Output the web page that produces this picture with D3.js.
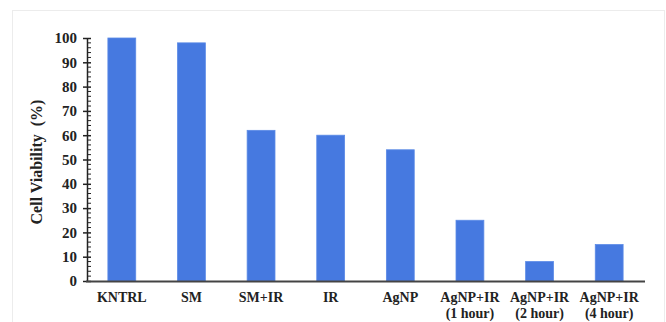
<!DOCTYPE html>
<html><head><meta charset="utf-8">
<script src="https://cdn.jsdelivr.net/npm/d3@7"></script>
<style>body{margin:0;background:#fff}svg{display:block}
svg text{font-family:"Liberation Serif","Times New Roman",Tinos,"DejaVu Serif",serif;font-weight:bold;fill:#222}</style>
</head><body>
<svg id="c" width="666" height="322"></svg>
<script>
const categories = [["KNTRL"],["SM"],["SM+IR"],["IR"],["AgNP"],["AgNP+IR","(1 hour)"],["AgNP+IR","(2 hour)"],["AgNP+IR","(4 hour)"]];
const values = [100, 98, 62, 60, 54, 25, 8, 15];
const yTicks = [0,10,20,30,40,50,60,70,80,90,100];
const yLabel = "Cell Viability  (%)";

const svg = d3.select("#c");
svg.append("rect").attr("x",12.5).attr("y",10.5).attr("width",652).attr("height",330)
  .attr("fill","none").attr("stroke","#ececec");

const x = d3.scaleBand().domain(categories.map((d,i)=>i)).range([87,644]).paddingInner(0.6).paddingOuter(0.3);
const y = d3.scaleLinear().domain([0,100]).range([281,38]);

// bars
svg.selectAll("rect.bar").data(values).enter().append("rect")
  .attr("class","bar")
  .attr("x",(d,i)=>x(i)).attr("width",x.bandwidth())
  .attr("y",d=>y(d)).attr("height",d=>y(0)-y(d))
  .attr("fill","#4679e0").attr("stroke","#5b8ae6").attr("stroke-width",0.8);

// minor ticks
const minor = d3.range(0,101,2).filter(v=>v%10!==0);
svg.selectAll("line.minor").data(minor).enter().append("line")
  .attr("x1",87).attr("x2",91).attr("y1",d=>y(d)).attr("y2",d=>y(d))
  .attr("stroke","#222").attr("stroke-width",1);

// y axis
const ya = svg.append("g").attr("transform","translate(87,0)")
  .call(d3.axisLeft(y).tickValues(yTicks).tickSize(0).tickPadding(10).tickSizeOuter(0));
ya.attr("font-family",null).attr("font-size",null);
ya.select(".domain").attr("stroke","#222").attr("stroke-width",1.5);
ya.selectAll(".tick line").remove();
ya.selectAll(".tick").append("line").attr("x1",-4).attr("x2",4).attr("stroke","#222").attr("stroke-width",1.5);
ya.selectAll("text").style("font-size","15px");

// x axis line
svg.append("line").attr("x1",86).attr("x2",645).attr("y1",281.5).attr("y2",281.5)
  .attr("stroke","#444").attr("stroke-width",1.8);

// x labels
const xl = svg.selectAll("text.xl").data(categories).enter().append("text")
  .attr("class","xl")
  .attr("x",(d,i)=>x(i)+x.bandwidth()/2).attr("y",302)
  .attr("text-anchor","middle").style("font-size","14px");
xl.each(function(d){
  const t = d3.select(this);
  d.forEach((s,j)=>t.append("tspan").attr("x",t.attr("x")).attr("dy",j?16:0).text(s));
});

// y label
svg.append("text").attr("transform","translate(42,162) rotate(-90)")
  .attr("text-anchor","middle").style("font-size","16px")
  .attr("xml:space","preserve").text(yLabel);
</script>
</body></html>
